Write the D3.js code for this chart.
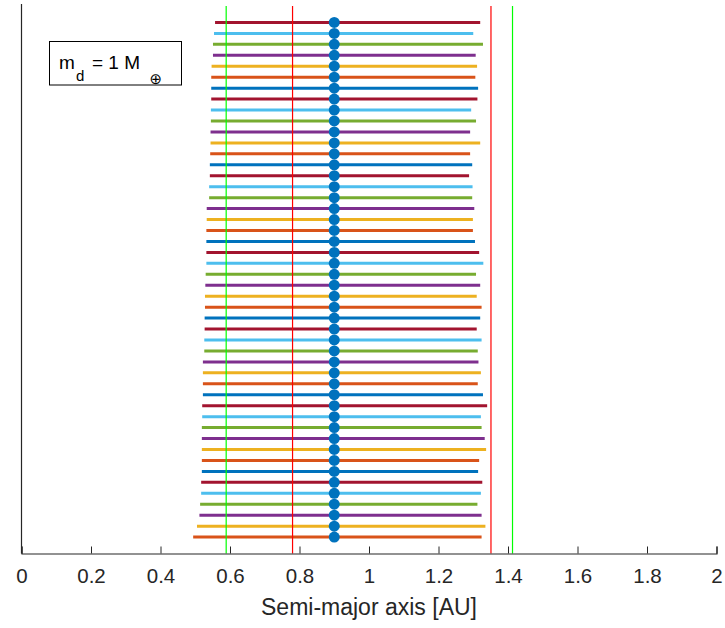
<!DOCTYPE html>
<html>
<head>
<meta charset="utf-8">
<script src="https://cdn.jsdelivr.net/npm/d3@7"></script>
<style>
  body { margin: 0; background: #fff; }
  svg { display: block; font-family: "Liberation Sans", Arial, sans-serif; }
</style>
</head>
<body>
<svg id="chart" width="725" height="628"></svg>
<script>
// rows listed from top to bottom
const leftEnds = [
  0.557, 0.554, 0.551, 0.551, 0.547, 0.546, 0.546, 0.546, 0.545, 0.545, 0.544, 0.544,
  0.543, 0.542, 0.542, 0.540, 0.540, 0.533, 0.533, 0.532, 0.532, 0.532, 0.532, 0.530, 0.529, 0.528,
  0.528, 0.527, 0.527, 0.526, 0.526, 0.522, 0.522, 0.522, 0.522, 0.520, 0.520, 0.519, 0.519,
  0.519, 0.519, 0.519, 0.517, 0.517, 0.514, 0.512, 0.505, 0.494
];
const rightEnds = [
  1.320, 1.300, 1.328, 1.307, 1.311, 1.306, 1.314, 1.312, 1.294, 1.308, 1.291, 1.320,
  1.291, 1.297, 1.288, 1.298, 1.297, 1.303, 1.299, 1.299, 1.305, 1.317, 1.329, 1.308, 1.320, 1.310,
  1.324, 1.320, 1.310, 1.324, 1.313, 1.315, 1.322, 1.313, 1.328, 1.340, 1.322, 1.324, 1.333,
  1.337, 1.317, 1.314, 1.326, 1.322, 1.312, 1.324, 1.335, 1.324
];
const centerValue = 0.9;
const greenLines = [0.589, 1.413];
const redLines = [0.780, 1.351];
const xTicks = [0, 0.2, 0.4, 0.6, 0.8, 1, 1.2, 1.4, 1.6, 1.8, 2];
const matlabColors = ['#0072BD', '#D95319', '#EDB120', '#7E2F8E', '#77AC30', '#4DBEEE', '#A2142F'];

const n = leftEnds.length;
const rows = leftEnds.map((l, i) => ({k: n - i, lo: l, hi: rightEnds[i]}));

const svg = d3.select('#chart');
const margin = {left: 21.5, right: 716.5, top: 6, bottom: 553.5};

const x = d3.scaleLinear().domain([0, 2]).range([margin.left, margin.right]);
const y = d3.scaleLinear().domain([-0.5, n + 1.5]).range([margin.bottom, margin.top]);

// horizontal ranges
svg.append('g')
  .selectAll('line')
  .data(rows)
  .enter()
  .append('line')
  .attr('x1', d => x(d.lo))
  .attr('x2', d => x(d.hi))
  .attr('y1', d => y(d.k))
  .attr('y2', d => y(d.k))
  .attr('stroke', d => matlabColors[d.k % 7])
  .attr('stroke-width', 3);

// vertical reference lines
const vlines = greenLines.map(v => ({v, c: '#00FF00'})).concat(redLines.map(v => ({v, c: '#FF0000'})));
svg.append('g')
  .selectAll('line')
  .data(vlines)
  .enter()
  .append('line')
  .attr('x1', d => x(d.v))
  .attr('x2', d => x(d.v))
  .attr('y1', margin.top)
  .attr('y2', margin.bottom)
  .attr('stroke', d => d.c)
  .attr('stroke-width', 1.2);

// center markers
svg.append('g')
  .selectAll('circle')
  .data(rows)
  .enter()
  .append('circle')
  .attr('cx', x(centerValue))
  .attr('cy', d => y(d.k))
  .attr('r', 5.5)
  .attr('fill', '#0072BD');

// x axis
const xAxis = svg.append('g')
  .attr('transform', `translate(0, ${margin.bottom})`)
  .call(d3.axisBottom(x).tickValues(xTicks).tickSize(-7).tickPadding(15)
    .tickFormat(d => d3.format('~g')(d)));
xAxis.select('.domain').attr('stroke', '#262626').attr('stroke-width', 1.2);
xAxis.selectAll('.tick line').attr('stroke', '#262626');
xAxis.selectAll('.tick text')
  .attr('fill', '#262626')
  .style('font-size', '20.5px')
  .style('font-family', '"Liberation Sans", Arial, sans-serif');

// left spine
svg.append('line')
  .attr('x1', margin.left).attr('x2', margin.left)
  .attr('y1', margin.top - 2).attr('y2', margin.bottom)
  .attr('stroke', '#262626').attr('stroke-width', 1.2);

svg.append('text')
  .attr('x', (margin.left + margin.right) / 2)
  .attr('y', 615)
  .attr('text-anchor', 'middle')
  .attr('fill', '#262626')
  .style('font-size', '23px')
  .text('Semi-major axis [AU]');

// annotation box
const box = svg.append('g');
box.append('rect')
  .attr('x', 49.5).attr('y', 41.5)
  .attr('width', 132).attr('height', 43.5)
  .attr('fill', '#fff').attr('stroke', '#000').attr('stroke-width', 1);
box.append('text').attr('x', 59).attr('y', 68.5).style('font-size', '19px').text('m');
box.append('text').attr('x', 76).attr('y', 81).style('font-size', '15px').text('d');
box.append('text').attr('x', 92).attr('y', 68.5).style('font-size', '19px').text('= 1 M');
box.append('text').attr('x', 149.5).attr('y', 84).style('font-size', '15px')
  .style('font-family', '"DejaVu Sans", sans-serif').text('\u2295');
</script>
</body>
</html>
